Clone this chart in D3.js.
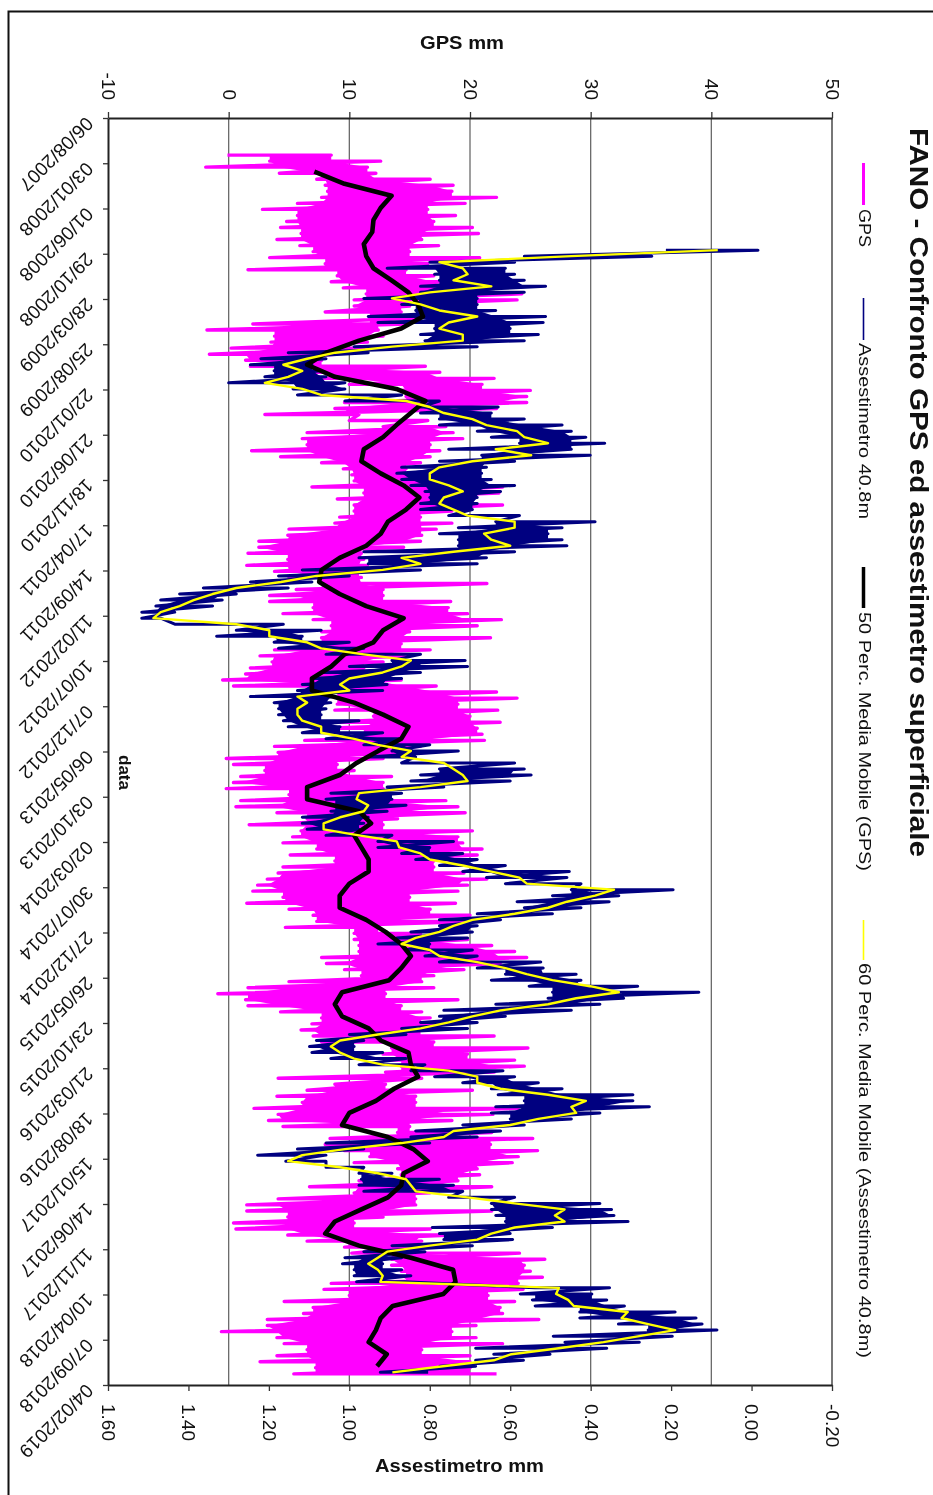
<!DOCTYPE html>
<html><head><meta charset="utf-8">
<script src="https://cdn.jsdelivr.net/npm/d3@7"></script>
<style>
html,body{margin:0;padding:0;background:#fff;overflow:hidden}
svg{display:block;filter:blur(0.45px)}
text{font-family:"Liberation Sans",Arial,sans-serif;fill:#111}
</style></head><body>
<svg id="c" width="933" height="1495"></svg>
<script>
const titleText = "FANO - Confronto GPS ed assestimetro superficiale";
const dateTicks = ["06/08/2007","03/01/2008","01/06/2008","29/10/2008","28/03/2009","25/08/2009","22/01/2010","21/06/2010","18/11/2010","17/04/2011","14/09/2011","11/02/2012","10/07/2012","07/12/2012","06/05/2013","03/10/2013","02/03/2014","30/07/2014","27/12/2014","26/05/2015","23/10/2015","21/03/2016","18/08/2016","15/01/2017","14/06/2017","11/11/2017","10/04/2018","07/09/2018","04/02/2019"];
const gpsTicks = [-10,0,10,20,30,40,50];
const assTicks = [1.6,1.4,1.2,1.0,0.8,0.6,0.4,0.2,0,-0.2];

// GPS mm: extremes read every 20 days from 07/12/2007
const gpsStart = "07/12/2007";
const gpsLow = [-0.1,3.4,-1.9,4.2,7.3,8,8.2,7.7,5.7,2.8,5.7,4.8,4.3,6,4,5.9,7,3.4,8,1.6,9,8.5,9.5,11.4,10.4,10.4,8,11.7,2,-1.8,3.8,3.5,0.2,-1.6,1.4,1.8,6.5,7.7,10,14.3,14.7,9.6,8.8,
3,10,12.8,6.5,6.1,6.5,1.9,4.3,7.7,9.5,10.2,10.4,6.9,11.2,9,10.4,10.4,9.2,8.8,5,4.9,2.5,2.5,1.6,4.9,1.5,3.8,5,7.7,5.6,3.4,3.4,7,4.5,7,8.5,7.7,7.7,6.5,3.8,2.6,3.6,1.8,1.4,-0.5,0.4,9,9,
9,8.8,12,8.1,8,11.2,6.3,3.8,4.1,-0.2,0.4,3,1,0.4,-0.2,5,1,0.6,4,6.5,1.7,6,5.3,4.5,7.3,5.1,8.8,4.5,4.1,3.2,2.4,2,4.5,1.5,5,7,7.3,4.7,10.4,10.4,10.8,10.8,7.7,8.1,9.6,11,5,1.6,
-0.9,1.4,1.6,4.3,7.7,6.9,6,7,7.7,13.5,12.8,13.5,14.3,13,4.1,8.8,6.5,4,6.1,2.1,4.1,3.3,4.5,14,8.4,8,9.6,11.7,10.4,14,14.3,10.8,6.7,10.4,4.1,1.5,1.5,4.9,0.4,0.6,4.9,6.5,9.6,10.2,13.5,13.5,14.3,14.7,
8.5,7.9,10,4.6,7,6.2,3.2,3.2,-0.6,4,4.6,6.5,4,2.6,7.2,5.4];
const gpsHigh = [8.5,12.6,11.5,12.2,16.7,18.6,18.5,22.2,19.6,16.5,18.8,17,20.2,20.7,16,17.4,15,20.8,16.5,14.7,17,17.7,18.5,24.3,23.9,15,14.3,15.9,14.7,12.4,12.8,11.5,11.2,8.8,7.7,16.3,17.5,22,21,25,24.7,24.7,22.2,
10.8,16.5,18,18.6,19.4,16.7,17.5,16.7,15.9,14.7,18,19.8,22.7,22.4,19,22.7,18.5,15.9,18.5,17.2,16,15.9,14.5,11,11.2,11.5,10.8,11,21.4,12.8,12.8,18.4,18.2,19.8,22.6,20.6,15,21.7,14.3,16.7,15,12.8,11.2,12,14.3,17.2,22.2,23.9,
19,22.3,20,22.5,20.6,21,21.2,15.9,16.7,12.8,9,10.4,13.5,12.8,12.8,12.8,18,19,19.6,14,12.8,20.2,19,19.4,21,20.6,17,17,19.5,21.4,19.8,19,15,18.8,16.7,20,20.8,12.4,15.9,19.8,21.8,23.7,24.7,22.5,19.5,17,16,17,
13,19,14.3,16,16.7,17.5,15.9,22,17,24.8,19.8,23.7,24.5,22,16,13,20.2,15.5,15.5,24,21.9,18.5,15,21.8,25.2,21.7,25.6,24,23.5,20.6,20.8,19,21.8,16.7,15.5,15.5,21.8,12.8,10.4,16.7,18.6,16,15.5,24.1,26.2,24.5,25,26,
24,24.4,21.5,23.7,22.5,22.7,25.7,20.5,18.5,20.5,22.7,16,20,20,20,22.2];

// Assestimetro mm: extremes read every 20 days from 17/10/2008
const assStart = "17/10/2008";
const assLeft = [.213,.565,.8,.906,.788,.776,.823,.823,.964,.87,.835,.953,.929,.788,.823,.812,.988,1.152,1.22,1.246,1.187,1.21,1.3,1.14,1.129,1.011,.823,
.823,.776,.776,.682,.647,.577,.753,.671,.776,.87,.882,.87,.847,.812,.8,.823,.823,.753,.636,.729,.776,.729,.729,.964,.976,.953,1.117,1.176,1.246,1.363,1.422,1.469,1.481,1.516,1.516,1.434,1.281,1.33,1.187,1.176,1.058,.894,1,1.07,1.093,1.117,1.129,1.246,
1.187,1.176,1.176,1.164,1.152,1.117,1.058,.964,.894,.953,.87,.776,.823,.847,.906,1.046,1.058,1.035,1.046,1.117,1.117,1.105,1.058,.929,.929,.87,.835,.776,.718,.659,.612,.448,.495,.583,.565,.682,.776,.776,.847,.882,.929,.859,.812,.776,.682,.612,.647,.553,
.495,.506,.636,.765,.776,.823,.87,1,1.082,1.099,1.093,1.046,.976,.847,.788,.718,.647,.63,.565,.636,.647,.6,.718,.835,.847,1.058,1.129,1.228,1.158,1.058,.976,.97,.976,.964,.753,.647,.647,.636,.612,.794,.776,.765,.894,.964,1.011,1.017,.988,.988,
.982,.538,.575,.545,.538,.427,.427,.331,.257,.493,.464,.686,.641,.686,.775,.923];
const assRight = [-.016,.248,.589,.612,.589,.565,.512,.565,.682,.682,.636,.512,.518,.6,.53,.565,.682,.953,1.058,1.093,1.07,1.058,1.011,1.011,.87,.776,.63,
.647,.565,.471,.448,.412,.365,.448,.401,.589,.659,.671,.647,.589,.624,.682,.682,.694,.577,.389,.471,.506,.471,.459,.589,.659,.682,.823,1,1.093,1.152,1.281,1.316,1.34,1.434,1.469,1.164,1.07,1.117,1,.964,.823,.712,.706,.823,.87,.906,.917,1.035,
1.046,1.058,1.07,.976,1.023,.917,.87,.8,.729,.835,.589,.565,.548,.6,.765,.87,.894,.859,.906,.953,.964,.976,.894,.741,.8,.718,.682,.612,.453,.459,.424,.195,.33,.354,.424,.495,.624,.682,.694,.706,.8,.694,.682,.524,.518,.436,.424,.283,
.131,.318,.377,.448,.612,.682,.706,.859,.964,.988,.917,.859,.812,.618,.589,.53,.471,.295,.295,.254,.377,.448,.565,.624,.682,.8,.964,1.058,1.058,.964,.894,.776,.741,.718,.589,.377,.348,.342,.307,.495,.6,.594,.694,.812,.87,.917,.87,.847,
.863,.353,.397,.36,.316,.19,.138,.123,.086,.197,.279,.36,.501,.567,.686,.804];

// 60-point moving average (Assestimetro mm), same 20-day rows
const yellowAvg = [.084,.448,.776,.718,.706,.741,.647,.8,.894,.823,.776,.682,.753,.776,.718,.718,.894,1.035,1.105,1.164,1.117,1.152,1.21,1.117,1.07,.859,.8,
.765,.694,.659,.583,.565,.506,.636,.548,.694,.776,.8,.8,.753,.718,.765,.776,.741,.706,.589,.589,.665,.647,.6,.741,.87,.823,.917,1.082,1.17,1.281,1.34,1.387,1.422,1.469,1.487,1.281,1.199,1.199,1.105,1.07,.964,.847,.87,.917,1,1.023,1,1.129,
1.105,1.129,1.129,1.117,1.07,1.07,.988,.929,.847,.87,.765,.741,.718,.706,.823,.976,.982,.953,.964,1.023,1.064,1.064,.976,.882,.876,.823,.8,.718,.647,.577,.559,.342,.389,.459,.506,.589,.694,.741,.776,.835,.87,.8,.776,.682,.612,.559,.495,.401,
.33,.436,.506,.624,.694,.753,.823,.929,1.023,1.046,1.023,.988,.917,.753,.682,.682,.624,.506,.412,.448,.436,.53,.6,.741,.765,.87,1.011,1.117,1.152,1.023,.929,.859,.847,.835,.706,.589,.465,.489,.465,.589,.647,.682,.8,.906,.929,.953,.929,.917,
.923,.479,.486,.456,.442,.308,.323,.257,.19,.279,.368,.479,.597,.641,.767,.893];

// 50-point moving average (GPS mm), read every 40 days from 31/01/2008
const blackStart = "31/01/2008";
const blackAvg = [7.1,9.6,13.5,12.6,12,11.9,11.2,11.4,12,13.5,14.9,15.7,16.1,14.3,10.8,8.1,6.5,8.8,13.9,16.3,
15.1,13.9,12.8,11.2,11,12.6,14.5,15.8,14.7,13.2,12.6,11.4,9.2,7.7,7.5,9.2,11.4,14.5,12.8,12,9.6,8.5,6.9,6.9,
10.4,12.8,14.9,14.3,12.4,10.6,9.2,6.5,6.5,10.8,11.8,10.4,11,11.6,11.6,10,9.2,9.2,11.4,13,14.3,15.1,14.3,13.3,
9.4,8.8,9.4,11.6,12.6,14.9,15.1,15.7,13.7,12.2,10,9.4,13.2,15.3,16.5,14.5,14.3,13.2,11,8.8,8,10.8,15.1,18.6,
18.8,17.8,13.6,12.6,12.2,11.6,13.1,12.3];

const legendItems = ["GPS","Assestimetro 40.8m","50 Perc. Media Mobile (GPS)","60 Perc. Media Mobile (Assestimetro 40.8m)"];
const legendColors = ["#ff00ff","#000080","#000000","#ffff00"];

const parse = d3.utcParse("%d/%m/%Y"), fmt = d3.utcFormat("%d/%m/%Y");
const hy = f => d => f(d).replace("\u2212","-");
const svg = d3.select("#c");
const L=108,R=832,T=118,B=1385;
const tickDates = dateTicks.map(parse);
const x = d3.scaleLinear().domain([-10,50]).range([L,R]);
const xA = d3.scaleLinear().domain([1.6,-0.2]).range([L,R]);
const y = d3.scaleUtc().domain([tickDates[0],tickDates[tickDates.length-1]]).range([T,B]);

// page frame
svg.append("path").attr("d","M8.5,1495V11.5H933").attr("fill","none").attr("stroke","#111").attr("stroke-width",2);

// gridlines
svg.append("g").selectAll("line").data(gpsTicks.slice(1,-1)).join("line")
 .attr("x1",d=>x(d)).attr("x2",d=>x(d)).attr("y1",T).attr("y2",B).attr("stroke","#6a6a6a").attr("stroke-width",1.3);
svg.append("line").attr("x1",R).attr("x2",R).attr("y1",T).attr("y2",B).attr("stroke","#555").attr("stroke-width",1.6);

// series: a zig-zag through the extremes, plus the solid core the dense daily line leaves between them
const rowDate=(start,i,step)=>d3.utcDay.offset(parse(start),i*step);
const line = d3.line();
const add=(pts,c,w)=>svg.append("path").attr("d",line(pts)).attr("fill","none").attr("stroke",c).attr("stroke-width",w).attr("stroke-linejoin","round");
function band(start,a,b,sc,color,w){ // a is drawn on the left of b
  const nearL=i=>d3.max(a.slice(Math.max(0,i-1),i+2).map(sc));
  const nearR=i=>d3.min(b.slice(Math.max(0,i-1),i+2).map(sc));
  const area=d3.area().x0(nearL).x1(nearR).y(i=>y(rowDate(start,i,20))).defined(i=>nearL(i)<nearR(i));
  svg.append("path").attr("d",area(a.map((_,i)=>i))).attr("fill",color);
  const p=[];a.forEach((v,i)=>{const py=y(rowDate(start,i,20));p.push([sc(v),py],[sc(b[i]),py]);});
  add(p,color,w);
}
band(gpsStart,gpsLow,gpsHigh,x,legendColors[0],3.4);
band(assStart,assLeft,assRight,xA,legendColors[1],3);
add(blackAvg.map((v,i)=>[x(v),y(rowDate(blackStart,i,40))]),legendColors[2],4.6);
add(yellowAvg.map((v,i)=>[xA(v),y(rowDate(assStart,i,20))]),legendColors[3],2.4);

// axes
const styleAxis=g=>{g.select(".domain").attr("stroke","#222").attr("stroke-width",2);g.selectAll(".tick line").attr("stroke","#333").attr("stroke-width",1.3);};
const gT=svg.append("g").attr("transform",`translate(0,${T})`).call(d3.axisTop(x).tickValues(gpsTicks).tickSize(6).tickSizeOuter(0).tickFormat(hy(d3.format("d")))).call(styleAxis);
gT.selectAll(".tick text").attr("font-size",19).attr("font-family","Liberation Sans").attr("text-anchor","end").attr("transform","translate(0,-18) rotate(90)").attr("x",0).attr("y",0).attr("dy","0.35em");
const gB=svg.append("g").attr("transform",`translate(0,${B})`).call(d3.axisBottom(xA).tickValues(assTicks).tickSize(6).tickSizeOuter(0).tickFormat(hy(d3.format(".2f")))).call(styleAxis);
gB.selectAll(".tick text").attr("font-size",19).attr("font-family","Liberation Sans").attr("text-anchor","start").attr("transform","translate(0,19) rotate(90)").attr("x",0).attr("y",0).attr("dy","0.35em");
const gL=svg.append("g").attr("transform",`translate(${L},0)`).call(d3.axisLeft(y).tickValues(tickDates).tickSize(5).tickSizeOuter(0).tickFormat(fmt)).call(styleAxis);
gL.selectAll(".tick text").attr("font-size",19).attr("font-family","Liberation Sans").attr("text-anchor","start").attr("transform","translate(-18,2) rotate(135)").attr("x",0).attr("y",0).attr("dy","0.35em");

// titles
const txt=(s,px,py,size,weight,rot,len)=>{const t=svg.append("text").text(s).attr("font-size",size).attr("font-weight",weight).attr("transform",`translate(${px},${py}) rotate(${rot})`);if(len)t.attr("textLength",len).attr("lengthAdjust","spacingAndGlyphs");return t;};
txt("GPS mm",420,49,17.5,"bold",0,84);
txt("Assestimetro mm",375,1472,17.5,"bold",0,169);
txt("data",119,755,16,"bold",90,35);
txt(titleText,910,128,26,"bold",90,729);

// legend
const legY=[[163,205,209,247],[298,340,343,519],[567,608,612,871],[920,960,963,1358]];
const legW=[3,1.6,3.5,1.6];
legendItems.forEach((s,i)=>{const r=legY[i];
 svg.append("line").attr("x1",863.5).attr("x2",863.5).attr("y1",r[0]).attr("y2",r[1]).attr("stroke",legendColors[i]).attr("stroke-width",legW[i]);
 txt(s,859,r[2],16.5,"normal",90,r[3]-r[2]);
});
</script></body></html>
